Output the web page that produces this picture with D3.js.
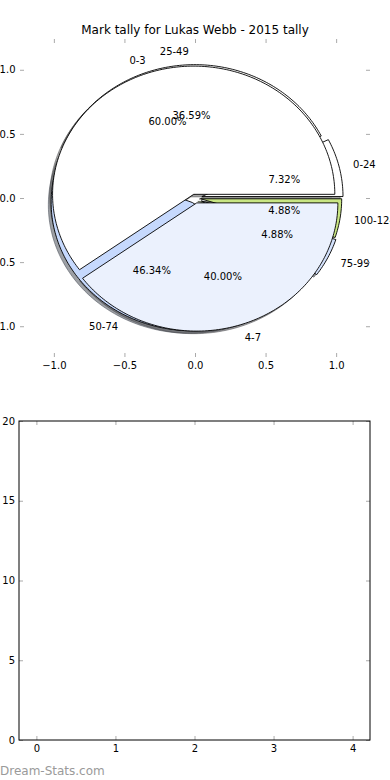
<!DOCTYPE html>
<html>
<head>
<meta charset="utf-8">
<script src="https://cdn.jsdelivr.net/npm/d3@7"></script>
<style>
  body { margin: 0; background: #fff; }
  text { font-family: "DejaVu Sans", sans-serif; }
</style>
</head>
<body>
<svg width="390" height="780"></svg>
<script>
// marks pie (outer labels 0-24 .. 100-124)
const markLabels = ["0-24", "25-49", "50-74", "75-99", "100-124"];
const markCounts = [3, 15, 19, 2, 2];
const markColors = ["#ffffff", "#ffffff", "#c6d9fd", "#d3e1fc", "#c9e683"];
const markExplode = [0.05, 0.04, 0.04, 0.05, 0.04];

// tally pie (0-3 / 4-7)
const tallyLabels = ["0-3", "4-7"];
const tallyCounts = [3, 2];
const tallyColors = ["#ffffff", "#ebf1fd"];
const tallyExplode = [0.03, 0.04];

const pieTicks = [-1, -0.5, 0, 0.5, 1];
const barTicksX = [0, 1, 2, 3, 4];
const barTicksY = [0, 5, 10, 15, 20];

const title = "Mark tally for Lukas Webb - 2015 tally";

function drawChart() {
    let svg = d3.select("svg");
    let tickColor = "#aaa";

    svg.append("rect").attr("width", 390).attr("height", 780).attr("fill", "#fff");

    // ---- top axes: the pies ----
    let x = d3.scaleLinear().domain([-1.24, 1.24]).range([20, 370]);
    let y = d3.scaleLinear().domain([-1.24, 1.24]).range([357, 39]);

    let line = d3.line().x(d => x(d[0])).y(d => y(d[1]));

    // angles counter clockwise from 3 o'clock, like matplotlib
    function wedges(counts, explode, colors, labels) {
        let total = d3.sum(counts);
        return d3.pie().sort(null)(counts).map((a, i) => {
            let mid = (a.startAngle + a.endAngle) / 2;
            return {
                a0: a.startAngle, a1: a.endAngle, mid: mid,
                cx: explode[i] * Math.cos(mid), cy: explode[i] * Math.sin(mid),
                color: colors[i], label: labels[i], pct: a.value / total * 100
            };
        });
    }

    function outline(w, dx, dy) {
        let n = Math.max(2, Math.ceil((w.a1 - w.a0) / 0.02));
        let pts = [[w.cx + dx, w.cy + dy]];
        for (let k = 0; k <= n; k++) {
            let t = w.a0 + (w.a1 - w.a0) * k / n;
            pts.push([w.cx + dx + Math.cos(t), w.cy + dy + Math.sin(t)]);
        }
        return line(pts) + "Z";
    }

    let marks = wedges(markCounts, markExplode, markColors, markLabels);
    let tally = wedges(tallyCounts, tallyExplode, tallyColors, tallyLabels);
    let all = marks.concat(tally);

    // shadows sit under every wedge
    svg.append("g").selectAll("path")
        .data(all)
        .join("path")
        .attr("d", d => outline(d, -0.02, -0.02))
        .attr("fill", d => { let c = d3.rgb(d.color); return d3.rgb(c.r * 0.3, c.g * 0.3, c.b * 0.3); })
        .attr("fill-opacity", 0.5)
        .attr("stroke", d => { let c = d3.rgb(d.color); return d3.rgb(c.r * 0.3, c.g * 0.3, c.b * 0.3); })
        .attr("stroke-opacity", 0.5)
        .attr("stroke-width", 1);

    svg.append("g").selectAll("path")
        .data(all)
        .join("path")
        .attr("d", d => outline(d, 0, 0))
        .attr("fill", d => d.color)
        .attr("stroke", "#000")
        .attr("stroke-width", 0.9)
        .attr("stroke-linejoin", "miter");

    let fmt = d3.format(".2f");
    let txt = svg.append("g").attr("font-size", 10).attr("fill", "#000");

    txt.selectAll("text.lbl")
        .data(all)
        .join("text")
        .attr("class", "lbl")
        .attr("x", d => x(d.cx + 1.1 * Math.cos(d.mid)))
        .attr("y", d => y(d.cy + 1.1 * Math.sin(d.mid)))
        .attr("dy", "0.35em")
        .attr("text-anchor", d => (d.cx + 1.1 * Math.cos(d.mid)) > 0 ? "start" : "end")
        .text(d => d.label);

    txt.selectAll("text.pct")
        .data(all)
        .join("text")
        .attr("class", "pct")
        .attr("x", d => x(d.cx + 0.6 * Math.cos(d.mid)))
        .attr("y", d => y(d.cy + 0.6 * Math.sin(d.mid)))
        .attr("dy", "0.35em")
        .attr("text-anchor", "middle")
        .text(d => fmt(d.pct) + "%");

    // pie axes ticks (no frame)
    let pf = d3.format(".1f");
    let gb = svg.append("g").attr("transform", "translate(0,357)")
        .call(d3.axisBottom(x).tickValues(pieTicks).tickFormat(pf).tickSize(-4).tickPadding(5));
    let gt = svg.append("g").attr("transform", "translate(0,39)")
        .call(d3.axisTop(x).tickValues(pieTicks).tickFormat("").tickSize(-4));
    let gl = svg.append("g").attr("transform", "translate(20,0)")
        .call(d3.axisLeft(y).tickValues(pieTicks).tickFormat(pf).tickSize(-4).tickPadding(4.5));
    let gr = svg.append("g").attr("transform", "translate(370,0)")
        .call(d3.axisRight(y).tickValues(pieTicks).tickFormat("").tickSize(-4));

    // title
    svg.append("text")
        .attr("x", 195).attr("y", 34)
        .attr("text-anchor", "middle")
        .attr("font-size", 12)
        .text(title);

    // ---- bottom axes: empty plot ----
    let bx = d3.scaleLinear().domain([-0.22, 4.22]).range([19, 370]);
    let by = d3.scaleLinear().domain([0, 20]).range([740, 421]);

    let bb = svg.append("g").attr("transform", "translate(0,740)")
        .call(d3.axisBottom(bx).tickValues(barTicksX).tickFormat(d3.format("d")).tickSize(-4).tickPadding(5));
    let bt = svg.append("g").attr("transform", "translate(0,421)")
        .call(d3.axisTop(bx).tickValues(barTicksX).tickFormat("").tickSize(-4));
    let bl = svg.append("g").attr("transform", "translate(19,0)")
        .call(d3.axisLeft(by).tickValues(barTicksY).tickFormat(d3.format("d")).tickSize(-4).tickPadding(4));
    let br = svg.append("g").attr("transform", "translate(370,0)")
        .call(d3.axisRight(by).tickValues(barTicksY).tickFormat("").tickSize(-4));

    [gb, gt, gl, gr, bb, bt, bl, br].forEach(g => {
        g.select(".domain").remove();
        g.selectAll(".tick line").attr("stroke", tickColor).attr("stroke-width", 1);
        g.selectAll(".tick text").attr("font-family", "DejaVu Sans").attr("font-size", 10).attr("fill", "#000");
    });

    svg.append("rect")
        .attr("x", bx.range()[0]).attr("y", by.range()[1])
        .attr("width", bx.range()[1] - bx.range()[0])
        .attr("height", by.range()[0] - by.range()[1])
        .attr("fill", "none")
        .attr("stroke", "#000")
        .attr("stroke-width", 1);

    // watermark
    svg.append("text")
        .attr("x", 0).attr("y", 775)
        .attr("font-size", 12)
        .attr("fill", "#9a9a9a")
        .text("Dream-Stats.com");
}
drawChart();
</script>
</body>
</html>
